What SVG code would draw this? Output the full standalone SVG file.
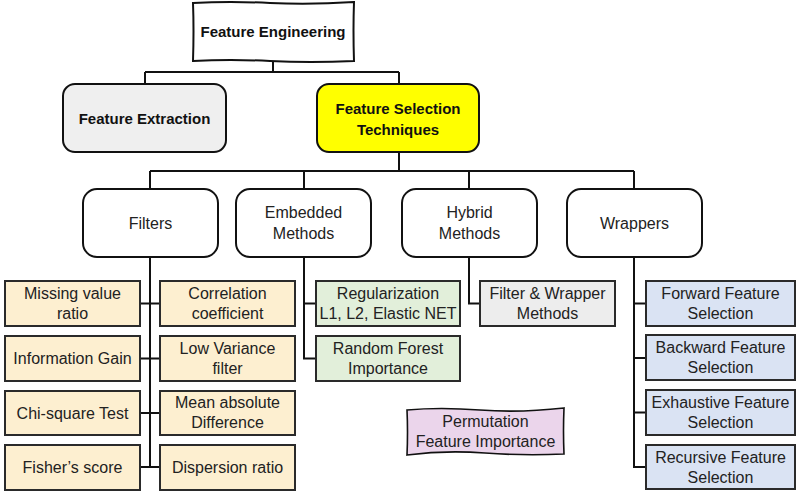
<svg xmlns="http://www.w3.org/2000/svg" width="800" height="495" viewBox="0 0 800 495">
<style>
text{font-family:"Liberation Sans",Arial,sans-serif;font-size:16px;fill:#222;text-anchor:middle}
.b{font-weight:bold;font-size:15px;fill:#111}
.conn{stroke:#111;stroke-width:2;fill:none}
.rnd{fill:#fff;stroke:#111;stroke-width:2}
.leaf{stroke:#2a2a2a;stroke-width:2}
.or{fill:#fdefd0}.gr{fill:#e2efda}.gy{fill:#ededed}.bl{fill:#dae3f3}
</style>
<rect width="800" height="495" fill="#fff"/>
<g id="connectors" class="conn">
<path d="M273 61V72M145 72H399M145 72V84M399 72V84"/>
<path d="M399 152V171M150 171H634M150 171V189M304 171V189M469 171V189M634 171V189"/>
<path d="M150 257V467M140 303.5H160M140 358.5H160M140 413H160M140 467H160"/>
<path d="M304 257V358.5H316M304 303.5H316"/>
<path d="M469 257V303.5H480"/>
<path d="M634 257V467H646M634 303.5H646M634 358H646M634 412.5H646"/>
</g>
<g id="feature-engineering">
<path d="M193 3 Q230 1 270 3 T354 2 Q353 30 354 61 Q310 63 270 61 T193 61 Q194 30 193 3Z" fill="#fff" stroke="#111" stroke-width="2"/>
<text class="b" x="273" y="37">Feature Engineering</text>
</g>
<g id="feature-extraction">
<rect x="63" y="84" width="163" height="68" rx="12" fill="#efefef" stroke="#111" stroke-width="2"/>
<text class="b" x="144.5" y="124">Feature Extraction</text>
</g>
<g id="feature-selection">
<rect x="317" y="84" width="162" height="68" rx="12" fill="#ffff00" stroke="#111" stroke-width="2"/>
<text class="b" x="398" y="114">Feature Selection</text>
<text class="b" x="398" y="135">Techniques</text>
</g>
<g id="filters"><rect class="rnd" x="83" y="189" width="135" height="68" rx="14"/><text x="150.5" y="229">Filters</text></g>
<g id="embedded"><rect class="rnd" x="236" y="189" width="135" height="68" rx="14"/><text x="303.5" y="218">Embedded</text><text x="303.5" y="239">Methods</text></g>
<g id="hybrid"><rect class="rnd" x="402" y="189" width="135" height="68" rx="14"/><text x="469.5" y="218">Hybrid</text><text x="469.5" y="239">Methods</text></g>
<g id="wrappers"><rect class="rnd" x="567" y="189" width="135" height="68" rx="14"/><text x="634.5" y="229">Wrappers</text></g>
<g id="missing-value"><rect class="leaf or" x="5" y="281" width="135" height="45"/><text x="72.5" y="299">Missing value</text><text x="72.5" y="319">ratio</text></g>
<g id="correlation"><rect class="leaf or" x="160" y="281" width="135" height="45"/><text x="227.5" y="299">Correlation</text><text x="227.5" y="319">coefficient</text></g>
<g id="information-gain"><rect class="leaf or" x="5" y="336" width="135" height="45"/><text x="72.5" y="364">Information Gain</text></g>
<g id="low-variance"><rect class="leaf or" x="160" y="336" width="135" height="45"/><text x="227.5" y="354">Low Variance</text><text x="227.5" y="374">filter</text></g>
<g id="chi-square"><rect class="leaf or" x="5" y="391" width="135" height="44"/><text x="72.5" y="419">Chi-square Test</text></g>
<g id="mean-absolute"><rect class="leaf or" x="160" y="391" width="135" height="44"/><text x="227.5" y="408">Mean absolute</text><text x="227.5" y="428">Difference</text></g>
<g id="fisher"><rect class="leaf or" x="5" y="445" width="135" height="45"/><text x="72.5" y="473">Fisher’s score</text></g>
<g id="dispersion"><rect class="leaf or" x="160" y="445" width="135" height="45"/><text x="227.5" y="473">Dispersion ratio</text></g>
<g id="regularization"><rect class="leaf gr" x="316" y="281" width="144" height="45"/><text x="388" y="299">Regularization</text><text x="388" y="319">L1, L2, Elastic NET</text></g>
<g id="random-forest"><rect class="leaf gr" x="316" y="336" width="144" height="45"/><text x="388" y="354">Random Forest</text><text x="388" y="374">Importance</text></g>
<g id="filter-wrapper"><rect class="leaf gy" x="480" y="281" width="135" height="45"/><text x="547.5" y="299">Filter &amp; Wrapper</text><text x="547.5" y="319">Methods</text></g>
<g id="permutation">
<path d="M407 410 Q440 407 480 410 T564 408 Q563 431 564 454 Q525 456 485 453 T407 455 Q408 432 407 410Z" fill="#ebd5eb" stroke="#111" stroke-width="1.6"/>
<text x="485.5" y="427">Permutation</text><text x="485.5" y="447">Feature Importance</text>
</g>
<g id="forward"><rect class="leaf bl" x="646" y="281" width="149" height="45"/><text x="720.5" y="299">Forward Feature</text><text x="720.5" y="319">Selection</text></g>
<g id="backward"><rect class="leaf bl" x="646" y="335" width="149" height="45"/><text x="720.5" y="353">Backward Feature</text><text x="720.5" y="373">Selection</text></g>
<g id="exhaustive"><rect class="leaf bl" x="646" y="390" width="149" height="45"/><text x="720.5" y="408">Exhaustive Feature</text><text x="720.5" y="428">Selection</text></g>
<g id="recursive"><rect class="leaf bl" x="646" y="445" width="149" height="44"/><text x="720.5" y="463">Recursive Feature</text><text x="720.5" y="483">Selection</text></g>
</svg>
